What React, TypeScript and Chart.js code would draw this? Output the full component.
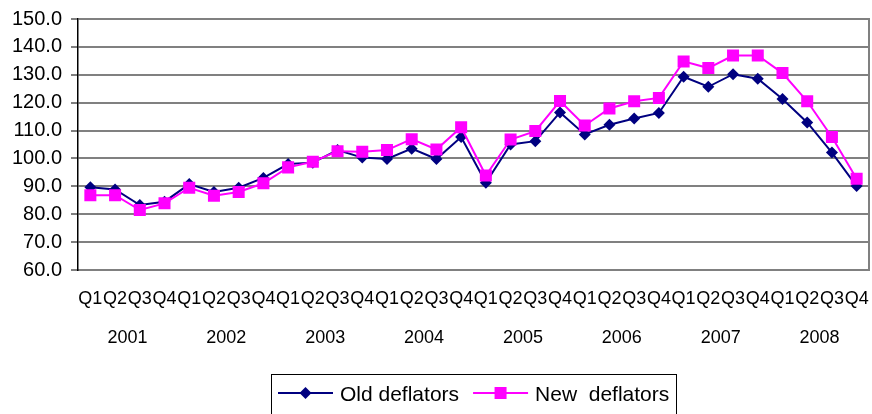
import React, { useEffect, useRef } from 'react';
import { Chart, registerables } from 'chart.js';

Chart.register(...registerables);

const years = ['2001', '2002', '2003', '2004', '2005', '2006', '2007', '2008'];
const quarters = ['Q1', 'Q2', 'Q3', 'Q4'];
const quarterLabels = years.flatMap(() => quarters);

const oldDeflators = [
  89.7, 88.9, 83.3, 84.5,
  90.8, 88.0, 89.5, 93.0,
  98.0, 98.5, 103.0, 100.3,
  99.8, 103.5, 99.8, 107.7,
  91.3, 105.0, 106.2, 116.5,
  108.6, 112.1, 114.3, 116.3,
  129.3, 125.7, 130.2, 128.6,
  121.3, 112.9, 102.1, 90.1,
];

const newDeflators = [
  86.8, 86.8, 81.5, 83.9,
  89.5, 86.6, 88.0, 91.1,
  96.8, 98.8, 102.6, 102.4,
  103.0, 106.9, 103.2, 111.2,
  93.9, 106.8, 109.8, 120.6,
  111.8, 117.9, 120.5, 121.7,
  134.8, 132.4, 136.9, 136.9,
  130.6, 120.5, 107.7, 92.7,
];

const seriesNames = ['Old deflators', 'New  deflators'];
const yMin = 60;
const yMax = 150;
const yStep = 10;

const FONT = '"Liberation Sans", Arial, sans-serif';
const GRID = '#808080';

const plotBorderPlugin = {
  id: 'plotBorder',
  beforeDatasetsDraw(chart: any) {
    const { ctx, chartArea } = chart;
    ctx.save();
    ctx.strokeStyle = GRID;
    ctx.lineWidth = 2;
    ctx.beginPath();
    ctx.moveTo(chartArea.right, chartArea.top - 1);
    ctx.lineTo(chartArea.right, chartArea.bottom + 1);
    ctx.stroke();
    ctx.restore();
  },
};

const legendBoxPlugin = {
  id: 'legendBox',
  afterDraw(chart: any) {
    const { ctx, chartArea } = chart;
    ctx.save();
    ctx.font = `21px ${FONT}`;
    const lineLen = 55;
    const gap = 7;
    const pad = 7;
    const spacing = 14;
    const items = chart.data.datasets.map((ds: any) => ({
      label: ds.label as string,
      color: ds.borderColor as string,
      style: ds.pointStyle as string,
      w: ctx.measureText(ds.label).width,
    }));
    let total = pad * 2;
    items.forEach((it: any, i: number) => {
      total += lineLen + gap + it.w + (i > 0 ? spacing : 0);
    });
    const cx = (chartArea.left + chartArea.right) / 2;
    const left = Math.round(cx - total / 2);
    const top = chart.height - 40;
    ctx.strokeStyle = '#000000';
    ctx.lineWidth = 1;
    ctx.strokeRect(left + 0.5, top + 0.5, Math.round(total), 50);
    const midY = top + 19;
    let x = left + pad;
    items.forEach((it: any, i: number) => {
      if (i > 0) x += spacing;
      ctx.strokeStyle = it.color;
      ctx.fillStyle = it.color;
      ctx.lineWidth = 2;
      ctx.beginPath();
      ctx.moveTo(x, midY);
      ctx.lineTo(x + lineLen, midY);
      ctx.stroke();
      const mx = x + lineLen / 2;
      ctx.beginPath();
      if (it.style === 'rectRot') {
        ctx.moveTo(mx, midY - 6);
        ctx.lineTo(mx + 6, midY);
        ctx.lineTo(mx, midY + 6);
        ctx.lineTo(mx - 6, midY);
        ctx.closePath();
      } else {
        ctx.rect(mx - 6, midY - 6, 12, 12);
      }
      ctx.fill();
      x += lineLen + gap;
      ctx.fillStyle = '#000000';
      ctx.textBaseline = 'alphabetic';
      ctx.textAlign = 'left';
      ctx.fillText(it.label, x, midY + 8);
      x += it.w;
    });
    ctx.restore();
  },
};

export default function App() {
  const ref = useRef<HTMLCanvasElement>(null);

  useEffect(() => {
    if (!ref.current) return;
    const chart = new Chart(ref.current, {
      type: 'line',
      data: {
        labels: quarterLabels,
        datasets: [
          {
            label: seriesNames[0],
            data: oldDeflators,
            borderColor: '#000080',
            backgroundColor: '#000080',
            borderWidth: 2,
            pointStyle: 'rectRot',
            pointRadius: 6,
            pointBorderWidth: 0,
            tension: 0,
            order: 2,
          },
          {
            label: seriesNames[1],
            data: newDeflators,
            borderColor: '#FF00FF',
            backgroundColor: '#FF00FF',
            borderWidth: 2,
            pointStyle: 'rect',
            pointRadius: 8.5,
            pointBorderWidth: 0,
            tension: 0,
            order: 1,
          },
        ],
      },
      options: {
        responsive: false,
        animation: false,
        devicePixelRatio: 1,
        layout: { autoPadding: false, padding: { top: 19, right: 3, left: 0, bottom: 59 } },
        plugins: {
          legend: { display: false },
          tooltip: { enabled: false },
        },
        scales: {
          x: {
            type: 'category',
            offset: true,
            weight: 0,
            grid: { display: false },
            border: { display: true, color: GRID, width: 2 },
            ticks: {
              autoSkip: false,
              maxRotation: 0,
              minRotation: 0,
              padding: 10,
              color: '#000000',
              font: { family: FONT, size: 18 },
            },
            afterFit: (s: any) => {
              s.height = 45;
              s.paddingLeft = 0;
              s.paddingRight = 0;
            },
          },
          x2: {
            type: 'category',
            position: 'bottom',
            labels: years,
            offset: true,
            weight: 1,
            grid: { display: false },
            border: { display: false },
            ticks: {
              autoSkip: false,
              maxRotation: 0,
              minRotation: 0,
              padding: 4,
              color: '#000000',
              font: { family: FONT, size: 18 },
            },
            afterFit: (s: any) => {
              s.height = 40;
              s.paddingLeft = 0;
              s.paddingRight = 0;
            },
          },
          y: {
            min: yMin,
            max: yMax,
            grid: {
              color: GRID,
              lineWidth: 2,
              drawTicks: true,
              tickLength: 7,
              tickColor: '#000000',
              tickWidth: 1,
            },
            border: { display: true, color: '#000000', width: 1.5 },
            ticks: {
              stepSize: yStep,
              padding: 9,
              color: '#000000',
              font: { family: FONT, size: 20 },
              callback: (v: any) => Number(v).toFixed(1),
            },
            afterFit: (s: any) => {
              s.width = 78;
              s.paddingTop = 0;
              s.paddingBottom = 0;
            },
          },
        },
      },
      plugins: [plotBorderPlugin, legendBoxPlugin],
    });
    return () => chart.destroy();
  }, []);

  return (
    <div style={{ position: 'absolute', left: 0, top: 0, width: 872, height: 414, background: '#ffffff' }}>
      <canvas ref={ref} width={872} height={414} style={{ display: 'block' }} />
    </div>
  );
}
